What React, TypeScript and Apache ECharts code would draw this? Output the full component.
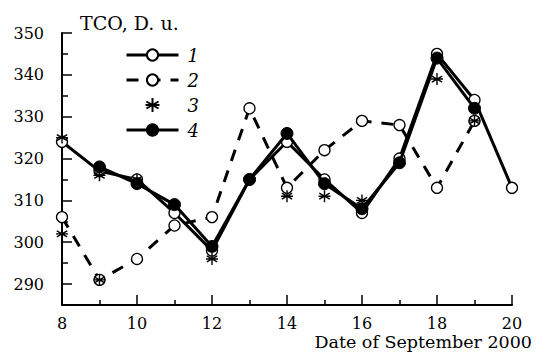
import React, { useEffect, useRef } from "react";
import * as echarts from "echarts";

const days = [8, 9, 10, 11, 12, 13, 14, 15, 16, 17, 18, 19, 20];
const series1 = [324, 317, 315, 307, 298, 315, 324, 315, 307, 320, 345, 334, 313];
const series2 = [306, 291, 296, 304, 306, 332, 313, 322, 329, 328, 313, 329, null];
const series4 = [null, 318, 314, 309, 299, 315, 326, 314, 308, 319, 344, 332, null];
const series3Days = [8, 8, 9, 9, 10, 12, 14, 15, 16, 18, 19];
const series3Values = [325, 302, 316, 291, 315, 296, 311, 311, 310, 339, 329];
const yLabelValues = [290, 300, 310, 320, 330, 340, 350];
const yMinorValues = [295, 305, 315, 325, 335, 345];

const FONT = "DejaVu Serif";
const ASTERISK = "path://M5 0V10M0.67 2.5L9.33 7.5M0.67 7.5L9.33 2.5M0 5H10";

export default function App() {
  const ref = useRef<HTMLDivElement>(null);
  useEffect(() => {
    if (!ref.current) return;
    const chart = echarts.init(ref.current, undefined, { renderer: "svg" });
    const pair = (vals: (number | null)[]) => days.map((d, i) => [d, vals[i]]);
    const openCircle = { color: "#fff", borderColor: "#000", borderWidth: 1.3 };
    chart.setOption({
      animation: false,
      backgroundColor: "#fff",
      title: {
        text: "TCO, D. u.",
        left: 75,
        top: 8,
        textStyle: { fontFamily: FONT, fontSize: 19, fontWeight: "normal", color: "#000" },
      },
      legend: {
        orient: "vertical",
        left: 120,
        top: 41,
        itemWidth: 52,
        itemHeight: 14,
        itemGap: 7,
        data: ["1", "2", "3", "4"],
        lineStyle: { width: 3 },
        textStyle: { fontFamily: FONT, fontStyle: "italic", fontSize: 18, color: "#000", padding: [0, 0, 0, 4] },
      },
      grid: { left: 62, right: 23, top: 33, bottom: 49 },
      xAxis: {
        type: "value",
        min: 8,
        max: 20,
        interval: 2,
        axisLine: { lineStyle: { color: "#000", width: 2 } },
        axisTick: { inside: true, length: 10, lineStyle: { color: "#000", width: 1.5 } },
        minorTick: { show: true, splitNumber: 2, length: 5, lineStyle: { color: "#000", width: 1.5 } },
        splitLine: { show: false },
        axisLabel: { color: "#000", fontFamily: FONT, fontSize: 16, margin: 10 },
      },
      yAxis: [
        {
          type: "value",
          min: 285,
          max: 350,
          axisLine: { show: true, lineStyle: { color: "#000", width: 2 } },
          axisTick: { show: true, inside: true, length: 10, customValues: yLabelValues, lineStyle: { color: "#000", width: 1.5 } },
          splitLine: { show: false },
          axisLabel: { color: "#000", fontFamily: FONT, fontSize: 16, margin: 18, customValues: yLabelValues },
        },
        {
          type: "value",
          min: 285,
          max: 350,
          position: "left",
          axisLine: { show: false },
          axisTick: { show: true, inside: true, length: 6, customValues: yMinorValues, lineStyle: { color: "#000", width: 1.5 } },
          splitLine: { show: false },
          axisLabel: { show: false },
        },
      ],
      graphic: [
        {
          type: "text",
          right: 3,
          top: 333,
          style: { text: "Date of September 2000", fontFamily: FONT, fontSize: 17.5, fill: "#000" },
        },
      ],
      series: [
        {
          name: "1",
          type: "line",
          data: pair(series1),
          symbol: "circle",
          symbolSize: 11,
          showAllSymbol: true,
          lineStyle: { color: "#000", width: 3 },
          itemStyle: openCircle,
          z: 2,
        },
        {
          name: "2",
          type: "line",
          data: pair(series2),
          symbol: "circle",
          symbolSize: 11,
          showAllSymbol: true,
          lineStyle: { color: "#000", width: 3, type: [12, 10] },
          itemStyle: openCircle,
          z: 2,
        },
        {
          name: "3",
          type: "scatter",
          data: series3Days.map((d, i) => [d, series3Values[i]]),
          symbol: ASTERISK,
          symbolSize: 12,
          itemStyle: { color: "transparent", borderColor: "#000", borderWidth: 1.4, opacity: 1 },
          clip: true,
          z: 4,
        },
        {
          name: "4",
          type: "line",
          data: pair(series4),
          symbol: "circle",
          symbolSize: 12,
          showAllSymbol: true,
          lineStyle: { color: "#000", width: 3 },
          itemStyle: { color: "#000", borderColor: "#000", borderWidth: 1 },
          z: 3,
        },
      ],
    });
    return () => chart.dispose();
  }, []);
  return (
    <div
      ref={ref}
      style={{ position: "fixed", left: 0, top: 0, width: 535, height: 354, background: "#fff" }}
    />
  );
}
